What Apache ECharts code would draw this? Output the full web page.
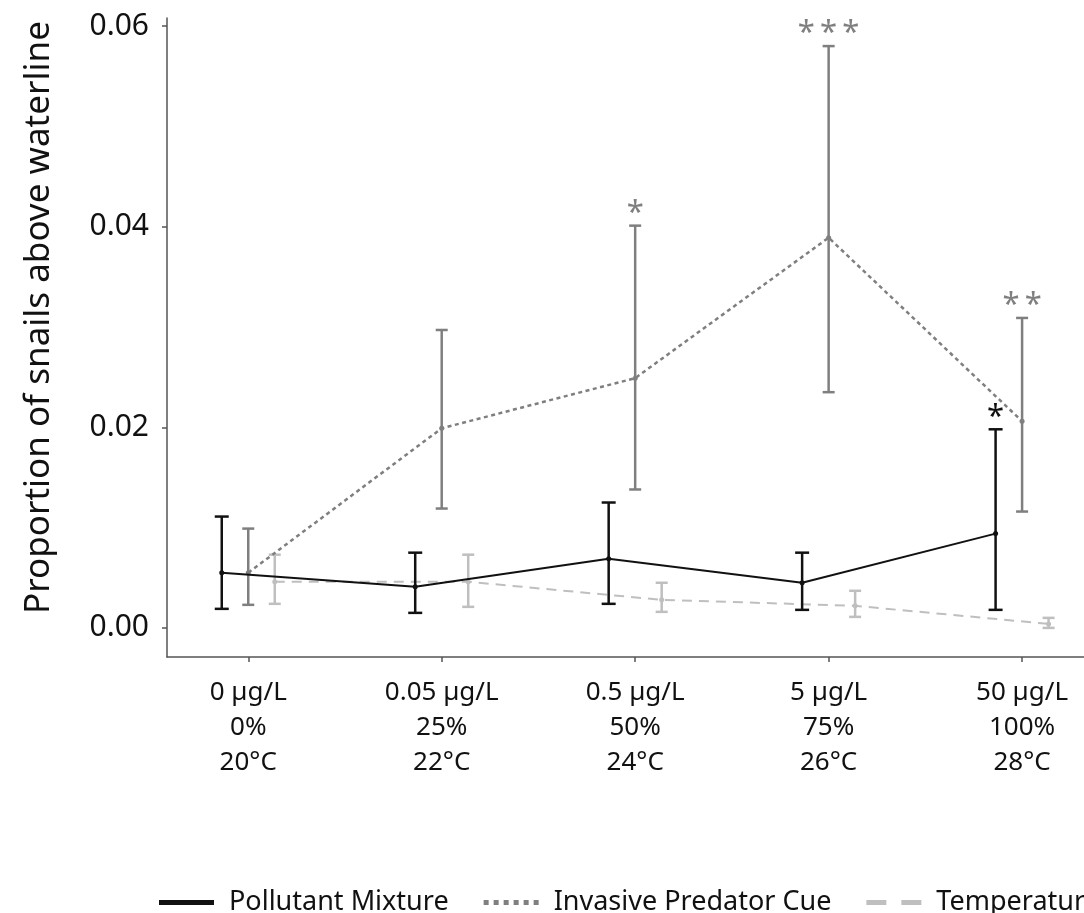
<!DOCTYPE html>
<html>
<head>
<meta charset="utf-8">
<script src="https://cdn.jsdelivr.net/npm/echarts@6/dist/echarts.min.js"></script>
<style>
  html, body { margin: 0; padding: 0; background: #fff; }
  #main { width: 1084px; height: 913px; }
</style>
</head>
<body>
<div id="main"></div>
<script>
// x positions of the 5 treatment levels
var levels = [1, 2, 3, 4, 5];
var doseLabels = ['0 µg/L', '0.05 µg/L', '0.5 µg/L', '5 µg/L', '50 µg/L'];
var cueLabels = ['0%', '25%', '50%', '75%', '100%'];
var tempLabels = ['20°C', '22°C', '24°C', '26°C', '28°C'];
var yTicks = [0, 0.02, 0.04, 0.06];

var seriesNames = ['Pollutant Mixture', 'Invasive Predator Cue', 'Temperature'];

var pollutantMean = [0.0055, 0.0041, 0.0069, 0.0045, 0.0094];
var pollutantLow = [0.0019, 0.0015, 0.0024, 0.0018, 0.0018];
var pollutantHigh = [0.0111, 0.0075, 0.0125, 0.0075, 0.0198];
var pollutantSig = ['', '', '', '', '*'];

var predatorMean = [0.0055, 0.0199, 0.0249, 0.0389, 0.0206];
var predatorLow = [0.0023, 0.0119, 0.0138, 0.0235, 0.0116];
var predatorHigh = [0.0099, 0.0297, 0.0401, 0.0580, 0.0309];
var predatorSig = ['', '', '*', '***', '**'];

var tempMean = [0.0046, 0.0046, 0.0028, 0.0022, 0.0004];
var tempLow = [0.0024, 0.0021, 0.0016, 0.0011, 0.0000];
var tempHigh = [0.0073, 0.0073, 0.0045, 0.0037, 0.0010];
var tempSig = ['', '', '', '', ''];

var FONT = '"Noto Sans", sans-serif';
var dodge = 0.137;

function points(mean, shift) {
    return levels.map(function (x, i) { return [x + shift, mean[i]]; });
}
function bars(low, high, shift) {
    return levels.map(function (x, i) { return [x + shift, low[i], high[i]]; });
}

// error bar with caps, plus the significance stars above it
function errorBar(color, capHalf, sig) {
    return function (params, api) {
        var x = api.value(0);
        var top = api.coord([x, api.value(2)]);
        var bot = api.coord([x, api.value(1)]);
        var st = { stroke: color, lineWidth: 2.5, fill: null };
        var kids = [
            { type: 'line', shape: { x1: top[0], y1: top[1], x2: bot[0], y2: bot[1] }, style: st },
            { type: 'line', shape: { x1: top[0] - capHalf, y1: top[1], x2: top[0] + capHalf, y2: top[1] }, style: st },
            { type: 'line', shape: { x1: bot[0] - capHalf, y1: bot[1], x2: bot[0] + capHalf, y2: bot[1] }, style: st }
        ];
        var mark = sig[params.dataIndex];
        if (mark) {
            kids.push({
                type: 'text', x: top[0], y: top[1] + 3,
                style: {
                    text: mark.split('').join('\u2009'), fill: color, fontSize: 31, fontFamily: FONT,
                    align: 'center', verticalAlign: 'bottom'
                }
            });
        }
        return { type: 'group', children: kids };
    };
}

// legend keys: solid bar, dotted bar, dashed bar
var solidKey = 'path://M0,0H55V5H0Z';
var dottedKey = 'path://M0,0h5v5h-5zM10,0h5v5h-5zM20,0h5v5h-5zM30,0h5v5h-5zM40,0h5v5h-5zM50,0h5v5h-5z';
var dashedKey = 'path://M0,0h20v5h-20zM35,0h20v5h-20z';

var dom = document.getElementById('main');
var myChart = echarts.init(dom);
var option = {
    backgroundColor: '#fff',
    animation: false,
    grid: { left: 167, right: 0, top: 18, bottom: 256 },
    legend: {
        left: 154,
        top: 884,
        width: 1400,
        selectedMode: false,
        itemWidth: 55,
        itemHeight: 5,
        itemGap: 35,
        textStyle: { fontSize: 27, color: '#111', fontFamily: FONT, padding: [0, 0, 0, 10] },
        data: [
            { name: seriesNames[0], icon: solidKey, itemStyle: { color: '#111' } },
            { name: seriesNames[1], icon: dottedKey, itemStyle: { color: '#7f7f7f' } },
            { name: seriesNames[2], icon: dashedKey, itemStyle: { color: '#bfbfbf' } }
        ]
    },
    xAxis: {
        type: 'value',
        min: 0.58,
        max: 5.32,
        splitLine: { show: false },
        axisLine: { onZero: false, lineStyle: { color: '#555', width: 1.5 } },
        axisTick: { length: 5, customValues: levels, lineStyle: { color: '#555', width: 1.5 } },
        axisLabel: {
            customValues: levels,
            margin: 18,
            fontSize: 26,
            lineHeight: 35,
            color: '#111',
            fontFamily: FONT,
            formatter: function (v) {
                var i = Math.round(v) - 1;
                return doseLabels[i] + '\n' + cueLabels[i] + '\n' + tempLabels[i];
            }
        }
    },
    yAxis: {
        type: 'value',
        min: -0.0029,
        max: 0.0608,
        name: 'Proportion of snails above waterline',
        nameLocation: 'middle',
        nameGap: 110,
        nameTextStyle: { fontSize: 35, color: '#111', fontFamily: FONT, padding: [0, 0, 0, 40] },
        splitLine: { show: false },
        axisLine: { show: true, onZero: false, lineStyle: { color: '#555', width: 1.5 } },
        axisTick: { show: true, length: 5, customValues: yTicks, lineStyle: { color: '#555', width: 1.5 } },
        axisLabel: {
            customValues: yTicks,
            margin: 18,
            fontSize: 30,
            color: '#111',
            fontFamily: FONT,
            formatter: function (v) { return v.toFixed(2); }
        }
    },
    series: [
        {
            name: seriesNames[2], type: 'custom', renderItem: errorBar('#bfbfbf', 6, tempSig),
            encode: { x: 0, y: [1, 2] }, data: bars(tempLow, tempHigh, dodge), z: 2
        },
        {
            name: seriesNames[2], type: 'line', data: points(tempMean, dodge),
            symbol: 'circle', symbolSize: 5, itemStyle: { color: '#bfbfbf' },
            lineStyle: { color: '#bfbfbf', width: 2, type: [10, 7] }, z: 3
        },
        {
            name: seriesNames[1], type: 'custom', renderItem: errorBar('#7f7f7f', 6, predatorSig),
            encode: { x: 0, y: [1, 2] }, data: bars(predatorLow, predatorHigh, 0), z: 4
        },
        {
            name: seriesNames[1], type: 'line', data: points(predatorMean, 0),
            symbol: 'circle', symbolSize: 5, itemStyle: { color: '#7f7f7f' },
            lineStyle: { color: '#7f7f7f', width: 2.5, type: [4, 3.5] }, z: 5
        },
        {
            name: seriesNames[0], type: 'custom', renderItem: errorBar('#111', 7, pollutantSig),
            encode: { x: 0, y: [1, 2] }, data: bars(pollutantLow, pollutantHigh, -dodge), z: 6
        },
        {
            name: seriesNames[0], type: 'line', data: points(pollutantMean, -dodge),
            symbol: 'circle', symbolSize: 5, itemStyle: { color: '#111' },
            lineStyle: { color: '#111', width: 2, type: 'solid' }, z: 7
        }
    ]
};
if (option && typeof option === "object") {
    myChart.setOption(option, true);
}
</script>
</body>
</html>
